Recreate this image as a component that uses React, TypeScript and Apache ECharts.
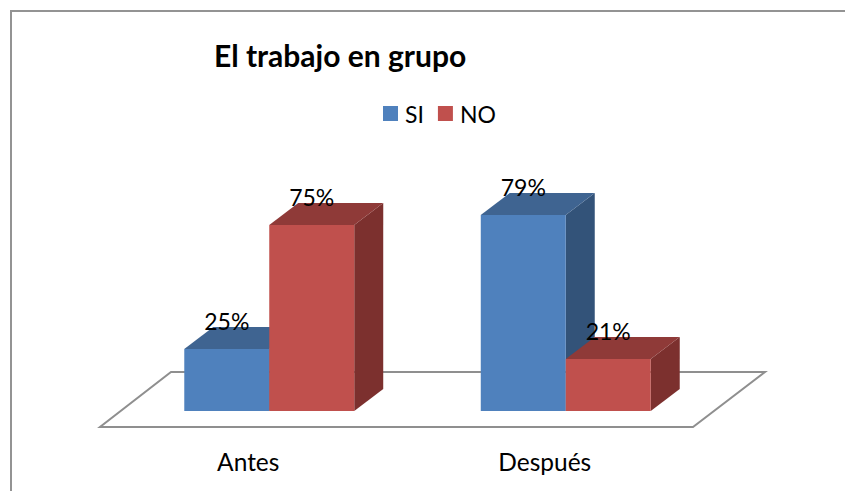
import React, { useEffect, useRef } from "react";
import * as echarts from "echarts";

const categories = ["Antes", "Después"];
const siValues = [25, 79];
const noValues = [75, 21];
const titleText = "El trabajo en grupo";

const FONT = "Lato, Carlito, sans-serif";
const DX = 29;
const DY = 22;
const OFFX = 21;
const OFFY = 16;

function barRenderer(side: number, front: string, top: string, right: string) {
  return (params: any, api: any) => {
    const idx = api.value(0);
    const val = api.value(1);
    const base = api.coord([idx, 0]);
    const head = api.coord([idx, val]);
    const band = api.size([1, 0])[0];
    const w = band * 0.2866;
    const x0 = base[0] + OFFX + (side < 0 ? -w : 0);
    const x1 = x0 + w;
    const yB = base[1] - OFFY;
    const yT = head[1] - OFFY;
    return {
      type: "group",
      children: [
        { type: "polygon", shape: { points: [[x1, yT], [x1 + DX, yT - DY], [x1 + DX, yB - DY], [x1, yB]] }, style: { fill: right } },
        { type: "polygon", shape: { points: [[x0, yT], [x0 + DX, yT - DY], [x1 + DX, yT - DY], [x1, yT]] }, style: { fill: top } },
        { type: "rect", shape: { x: x0, y: yT, width: w, height: yB - yT }, style: { fill: front } },
        {
          type: "text",
          x: (x0 + x1) / 2,
          y: yT - 28,
          style: { text: val + "%", fill: "#000", font: "23px " + FONT, textAlign: "center", textVerticalAlign: "middle" },
        },
      ],
    };
  };
}

function floorRenderer(params: any) {
  const c = params.coordSys;
  const l = c.x;
  const r = c.x + c.width;
  const yF = c.y + c.height;
  return {
    type: "polygon",
    shape: { points: [[l, yF], [r, yF], [r + 72, yF - 55], [l + 71, yF - 55]] },
    style: { fill: "#fff", stroke: "#8f8f8f", lineWidth: 2 },
  };
}

export default function App() {
  const ref = useRef<HTMLDivElement>(null);
  useEffect(() => {
    document.body.style.margin = "0";
    const chart = echarts.init(ref.current!, null, { renderer: "svg" });
    chart.setOption({
      animation: false,
      backgroundColor: "#fff",
      title: {
        text: titleText,
        left: 214,
        top: 40,
        padding: 0,
        textStyle: { fontFamily: FONT, fontWeight: "bold", fontSize: 30, color: "#000" },
      },
      legend: {
        left: 383,
        top: 102,
        padding: 0,
        itemWidth: 15,
        itemHeight: 15,
        itemGap: 14,
        icon: "rect",
        textStyle: { fontFamily: FONT, fontSize: 23, color: "#000", padding: [0, 0, 0, 2] },
        data: ["SI", "NO"],
      },
      grid: { left: 100, width: 593, top: 179, height: 248 },
      xAxis: {
        type: "category",
        data: categories,
        axisLine: { show: false },
        axisTick: { show: false },
        axisLabel: { fontFamily: FONT, fontSize: 24.5, color: "#000", margin: 22 },
      },
      yAxis: { type: "value", min: 0, max: 100, show: false },
      graphic: [
        {
          type: "polyline",
          silent: true,
          shape: { points: [[11, 491], [11, 11], [845, 11]] },
          style: { fill: "none", stroke: "#939393", lineWidth: 2 },
        },
      ],
      series: [
        {
          type: "custom",
          name: "floor",
          silent: true,
          z: 1,
          data: [[0, 0]],
          encode: { x: 0, y: 1 },
          renderItem: floorRenderer,
        },
        {
          type: "custom",
          name: "SI",
          z: 2,
          itemStyle: { color: "#4F81BD" },
          data: categories.map((_, i) => [i, siValues[i]]),
          encode: { x: 0, y: 1 },
          renderItem: barRenderer(-1, "#4F81BD", "#3F6491", "#335379"),
        },
        {
          type: "custom",
          name: "NO",
          z: 3,
          itemStyle: { color: "#C0504D" },
          data: categories.map((_, i) => [i, noValues[i]]),
          encode: { x: 0, y: 1 },
          renderItem: barRenderer(1, "#C0504D", "#8F3A38", "#7C302E"),
        },
      ],
    });
    return () => chart.dispose();
  }, []);
  return <div ref={ref} style={{ width: 845, height: 491 }} />;
}
